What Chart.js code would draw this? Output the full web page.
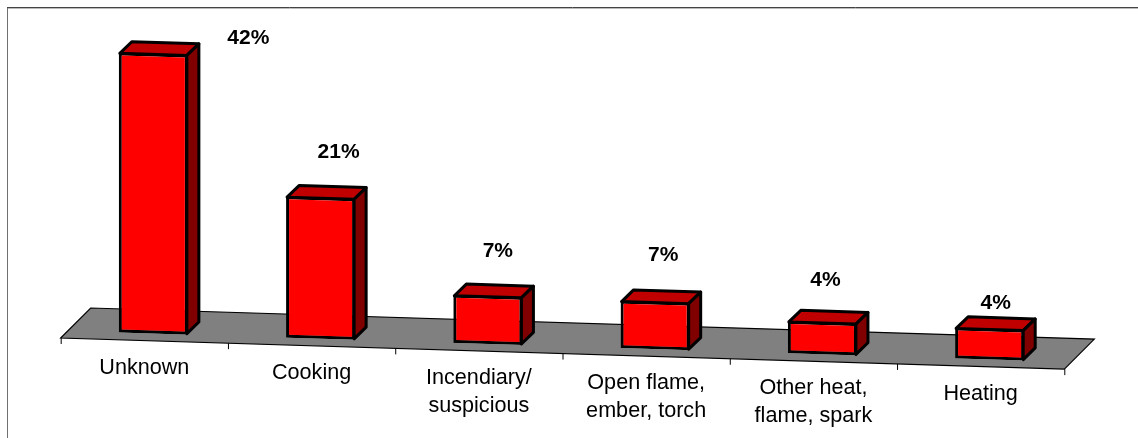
<!DOCTYPE html>
<html>
<head>
<meta charset="utf-8">
<style>
  html, body { margin: 0; padding: 0; background: #fff; }
  canvas { display: block; }
</style>
<script src="https://cdn.jsdelivr.net/npm/chart.js@4"></script>
</head>
<body>
<canvas id="fires" width="1138" height="438"></canvas>
<script>
const categories = ["Unknown", "Cooking", ["Incendiary/", "suspicious"], ["Open flame,", "ember, torch"], ["Other heat,", "flame, spark"], "Heating"];
// unrounded shares, the labels show them rounded
const percents = [42, 21, 6.85, 6.75, 4.45, 4.25];
// hand placed labels in the original, offset from the top centre of each bar
const labelNudgeX = [95, 18, 10, 8, 3, 6];
const labelNudgeY = [-15, -45, -45, -47, -42, -26];

const slope = 0.031;      // the whole floor runs downhill to the right
const barShift = 9;       // bars sit a bit behind the front edge
const barLift = 7;
const depth = 12;         // extrusion of a bar
const floorDepth = 30;
const axisMin = -0.45;    // bar outline sits outside the value, about 3px

function shear(ctx, area, dx, dy) {
  ctx.transform(1, slope, 0, 1, dx, dy - slope * area.left);
}

const fakeThreeD = {
  id: "fakeThreeD",
  beforeDatasetsDraw(chart) {
    const { ctx, chartArea: area } = chart;
    const x0 = area.left, x1 = area.right, y0 = area.bottom;
    const drop = slope * (x1 - x0);

    // frame, open on the right and at the bottom
    ctx.save();
    ctx.lineWidth = 1;
    ctx.strokeStyle = "#707070";
    ctx.beginPath();
    ctx.moveTo(7.5, 438);
    ctx.lineTo(7.5, 8);
    ctx.stroke();
    ctx.strokeStyle = "#444";
    ctx.beginPath();
    ctx.moveTo(7, 7.5);
    ctx.lineTo(1138, 7.5);
    ctx.stroke();
    ctx.strokeStyle = "#bbb";
    ctx.beginPath();
    ctx.moveTo(8, 8.5);
    ctx.lineTo(1138, 8.5);
    ctx.stroke();

    // floor
    ctx.fillStyle = "#808080";
    ctx.strokeStyle = "#000";
    ctx.lineWidth = 1.2;
    ctx.beginPath();
    ctx.moveTo(x0, y0);
    ctx.lineTo(x0 + floorDepth, y0 - floorDepth);
    ctx.lineTo(x1 + floorDepth, y0 + drop - floorDepth);
    ctx.lineTo(x1, y0 + drop);
    ctx.closePath();
    ctx.fill();
    ctx.stroke();

    // ticks under the front edge
    const xs = chart.scales.x;
    ctx.lineWidth = 1;
    ctx.beginPath();
    for (let i = 0; i <= categories.length; i++) {
      const px = i < categories.length ? xs.getPixelForValue(i) - xs.width / categories.length / 2 : x1;
      const py = y0 + slope * (px - x0);
      ctx.moveTo(px + 0.5, py);
      ctx.lineTo(px + 0.5, py + 6);
    }
    ctx.stroke();
    ctx.restore();

    // everything the dataset draws from here on is sheared
    ctx.save();
    shear(ctx, area, barShift, -barLift);
  },
  afterDatasetsDraw(chart) {
    const ctx = chart.ctx;
    const bars = chart.getDatasetMeta(0).data;
    ctx.lineWidth = 3;
    ctx.strokeStyle = "#000";
    ctx.lineJoin = "round";
    bars.forEach((bar) => {
      const l = bar.x - bar.width / 2 + 1;
      const r = bar.x + bar.width / 2 - 1;
      const t = bar.y + 1;
      const b = bar.base - 1;
      ctx.fillStyle = "#c00000";
      ctx.beginPath();
      ctx.moveTo(l, t);
      ctx.lineTo(l + depth, t - depth);
      ctx.lineTo(r + depth, t - depth);
      ctx.lineTo(r, t);
      ctx.closePath();
      ctx.fill();
      ctx.stroke();
      ctx.fillStyle = "#800000";
      ctx.beginPath();
      ctx.moveTo(r, t);
      ctx.lineTo(r + depth, t - depth);
      ctx.lineTo(r + depth, b - depth);
      ctx.lineTo(r, b);
      ctx.closePath();
      ctx.fill();
      ctx.stroke();
    });
    ctx.restore();

    // value labels, not sheared
    ctx.save();
    ctx.fillStyle = "#000";
    ctx.font = "bold 21px 'Liberation Sans'";
    ctx.textAlign = "center";
    ctx.textBaseline = "middle";
    bars.forEach((bar, i) => {
      const cx = bar.x + barShift;
      const cy = bar.y - barLift + slope * (cx - chart.chartArea.left);
      ctx.fillText(Math.floor(percents[i] + 0.5) + "%", cx + labelNudgeX[i], cy + labelNudgeY[i]);
    });
    ctx.restore();
  },
  beforeDraw(chart) {
    // axis labels stay upright but follow the floor downhill
    const xs = chart.scales.x;
    if (xs._labelsMoved) return;
    xs.getLabelItems(chart.chartArea).forEach((item) => {
      item.options.translation[1] += slope * (item.options.translation[0] - chart.chartArea.left);
    });
    xs._labelsMoved = true;
  },
};

new Chart(document.getElementById("fires").getContext("2d"), {
  type: "bar",
  data: {
    labels: categories,
    datasets: [
      {
        data: percents,
        base: axisMin,
        backgroundColor: "#ff0000",
        borderColor: "#000",
        borderWidth: 3,
        borderSkipped: false,
        barPercentage: 0.413,
        categoryPercentage: 1,
      },
    ],
  },
  options: {
    responsive: false,
    animation: false,
    events: [],
    layout: { padding: { left: 60.7, right: 73.7, top: 40, bottom: 0 } },
    plugins: {
      legend: { display: false },
      tooltip: { enabled: false },
    },
    scales: {
      x: {
        grid: { display: false },
        border: { display: false },
        afterFit(scale) { scale.height = 100; },
        ticks: {
          color: "#000",
          padding: 5,
          maxRotation: 0,
          autoSkip: false,
          font: { family: "'Liberation Sans'", size: 21.6, lineHeight: 1.3 },
        },
      },
      y: {
        display: false,
        min: axisMin,
        max: 44.7,
      },
    },
  },
  plugins: [fakeThreeD],
});
</script>
</body>
</html>
